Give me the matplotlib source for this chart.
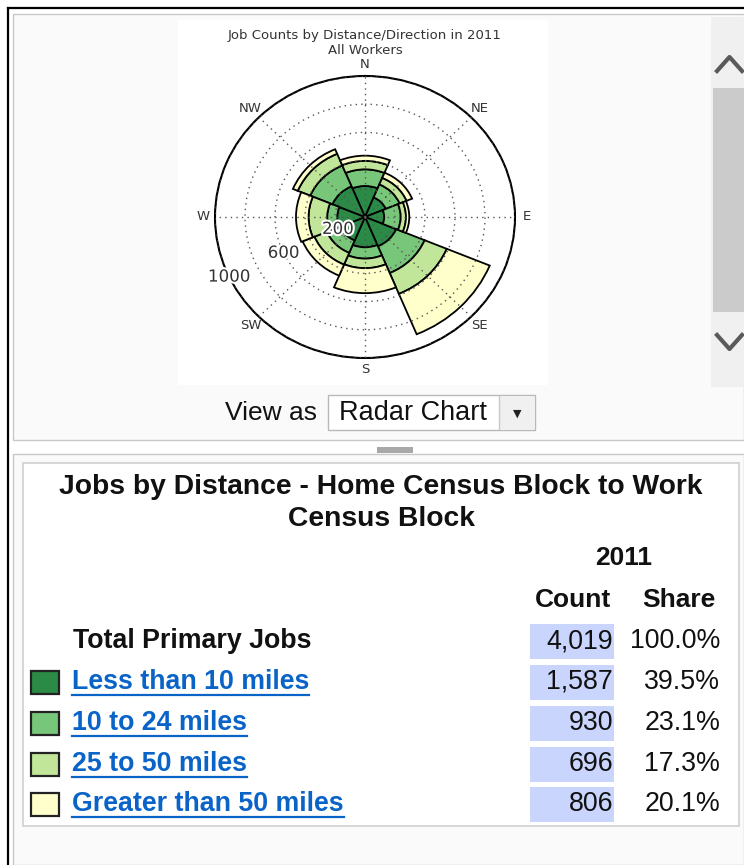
import matplotlib.pyplot as plt
import matplotlib.patheffects as pe
from matplotlib.patches import Rectangle
import numpy as np

# radar data: job counts per direction, one list per distance band
directions = ['N', 'NE', 'E', 'SE', 'S', 'SW', 'W', 'NW']
less_10 = [220, 150, 128, 225, 215, 180, 185, 235]
from_10_24 = [118, 100, 110, 205, 80, 95, 67, 160]
from_25_50 = [60, 50, 35, 160, 68, 90, 124, 90]
over_50 = [37, 40, 22, 310, 177, 85, 84, 35]
r_ticks = [200, 400, 600, 800, 1000]
r_labels = ['200', '600', '1000']

# table data
band_names = ['Less than 10 miles', '10 to 24 miles', '25 to 50 miles', 'Greater than 50 miles']
band_colors = ['#2a8a46', '#78c679', '#c2e699', '#ffffcc']
counts = ['1,587', '930', '696', '806']
shares = ['39.5%', '23.1%', '17.3%', '20.1%']
total_count = '4,019'
total_share = '100.0%'
year = '2011'

W, H = 744, 865
fig = plt.figure(figsize=(W / 100, H / 100), dpi=100)
fig.patch.set_facecolor('white')

# background "page" drawn in pixel coords
bg = fig.add_axes([0, 0, 1, 1])
bg.set_xlim(0, W)
bg.set_ylim(H, 0)
bg.axis('off')

ui = 'Liberation Sans'

# outer frame
bg.plot([7.5, 7.5], [7.5, H], color='black', lw=1.6)
bg.plot([7.5, W], [7.5, 7.5], color='black', lw=1.6)
# top panel
bg.add_patch(Rectangle((13, 14), W - 13, 426, facecolor='#fafafa', edgecolor='#c8c8c8', lw=1))
bg.add_patch(Rectangle((178, 20), 370, 365, facecolor='white', edgecolor='none'))
# scrollbar
bg.add_patch(Rectangle((711, 17), 33, 370, facecolor='#f0f0f0', edgecolor='none'))
bg.add_patch(Rectangle((713, 88), 31, 224, facecolor='#cbcbcb', edgecolor='none'))
bg.plot([717, 729.5, 742], [71, 57, 71], color='#5a5a5a', lw=3)
bg.plot([717, 729.5, 742], [335, 349, 335], color='#5a5a5a', lw=3)

# "View as" dropdown
bg.text(317, 413, 'View as', ha='right', va='center', fontsize=19, family=ui, color='#111')
bg.add_patch(Rectangle((328, 395), 207, 35, facecolor='white', edgecolor='#b8b8b8', lw=1))
bg.add_patch(Rectangle((499, 396), 35, 33, facecolor='#f0f0f0', edgecolor='none'))
bg.plot([499, 499], [396, 429], color='#c8c8c8', lw=1)
bg.text(339, 413, 'Radar Chart', ha='left', va='center', fontsize=19.5, family=ui, color='#111')
bg.text(517, 414, '\u25BC', ha='center', va='center', fontsize=8, family='DejaVu Sans', color='#222')

# splitter
bg.add_patch(Rectangle((377, 447), 36, 6, facecolor='#a8a8a8', edgecolor='none'))

# bottom panel
bg.add_patch(Rectangle((13, 454), W - 13, H - 454, facecolor='#fafafa', edgecolor='#c8c8c8', lw=1))
bg.add_patch(Rectangle((23, 463), 716, 363, facecolor='white', edgecolor='#cfcfcf', lw=1.2))

bg.text(381, 487, 'Jobs by Distance - Home Census Block to Work', ha='center', va='center',
        fontsize=20.3, family=ui, weight='bold', color='#111')
bg.text(381, 519, 'Census Block', ha='center', va='center',
        fontsize=20.3, family=ui, weight='bold', color='#111')
bg.text(624, 558, year, ha='center', va='center', fontsize=19, family=ui, weight='bold', color='#111')
bg.text(573, 600, 'Count', ha='center', va='center', fontsize=19, family=ui, weight='bold', color='#111')
bg.text(679, 600, 'Share', ha='center', va='center', fontsize=19, family=ui, weight='bold', color='#111')

row_y = [641, 682, 723, 764, 804]
bg.text(73, row_y[0], 'Total Primary Jobs', ha='left', va='center', fontsize=19.3, family=ui,
        weight='bold', color='#111')
for y, c, s in zip(row_y, [total_count] + counts, [total_share] + shares):
    bg.add_patch(Rectangle((530, y - 17.5), 84, 35, facecolor='#c9d5fc', edgecolor='none'))
    bg.text(613, y, c, ha='right', va='center', fontsize=19.3, family=ui, color='#111')
    bg.text(720, y, s, ha='right', va='center', fontsize=19.3, family=ui, color='#111')

renderer = fig.canvas.get_renderer()
for y, name, col in zip(row_y[1:], band_names, band_colors):
    bg.add_patch(Rectangle((31, y - 11.5), 28, 23, facecolor=col, edgecolor='#222', lw=1.6))
    t = bg.text(72, y, name, ha='left', va='center', fontsize=19.3, family=ui,
                weight='bold', color='#0a64c8')
    bb = t.get_window_extent(renderer=renderer)
    bg.plot([bb.x0, bb.x1], [y + 13, y + 13], color='#0a64c8', lw=1.6)

# chart title
bg.text(365, 35, 'Job Counts by Distance/Direction in 2011', ha='center', va='center',
        fontsize=9.5, family='DejaVu Sans', color='#333')
bg.text(365, 50, 'All Workers', ha='center', va='center',
        fontsize=9.5, family='DejaVu Sans', color='#333')

# radar (polar stacked bars), slightly squashed like the screenshot
cx, cy, rx, ry = 365, 217, 150, 141
ax = fig.add_axes([(cx - rx) / W, 1 - (cy + ry) / H, 2 * rx / W, 2 * ry / H], projection='polar')
ax.set_aspect('auto')
ax.set_theta_zero_location('N')
ax.set_theta_direction(-1)

theta = np.deg2rad(np.arange(0, 360, 45))
bottom = np.zeros(len(directions))
for vals, col in zip([less_10, from_10_24, from_25_50, over_50], band_colors):
    ax.bar(theta, vals, width=np.pi / 4, bottom=bottom, color=col, edgecolor='black', linewidth=1.3)
    bottom += np.array(vals)

ax.set_ylim(0, 1000)
ax.set_yticks(r_ticks)
ax.set_yticklabels([])
for lab in r_labels:
    ax.text(np.deg2rad(245), float(lab), lab, ha='center', va='center', fontsize=12,
            color='#333', family='DejaVu Sans',
            path_effects=[pe.withStroke(linewidth=3, foreground='white')])
ax.set_xticks(theta)
ax.set_xticklabels(directions, fontsize=9.5, color='#333', family='DejaVu Sans')
ax.tick_params(axis='x', pad=-2)
ax.grid(True, color='#555', linestyle=(0, (1, 3)), linewidth=1.0)
ax.set_axisbelow(False)
ax.spines['polar'].set_linewidth(1.5)

plt.savefig('out.png', dpi=100)
